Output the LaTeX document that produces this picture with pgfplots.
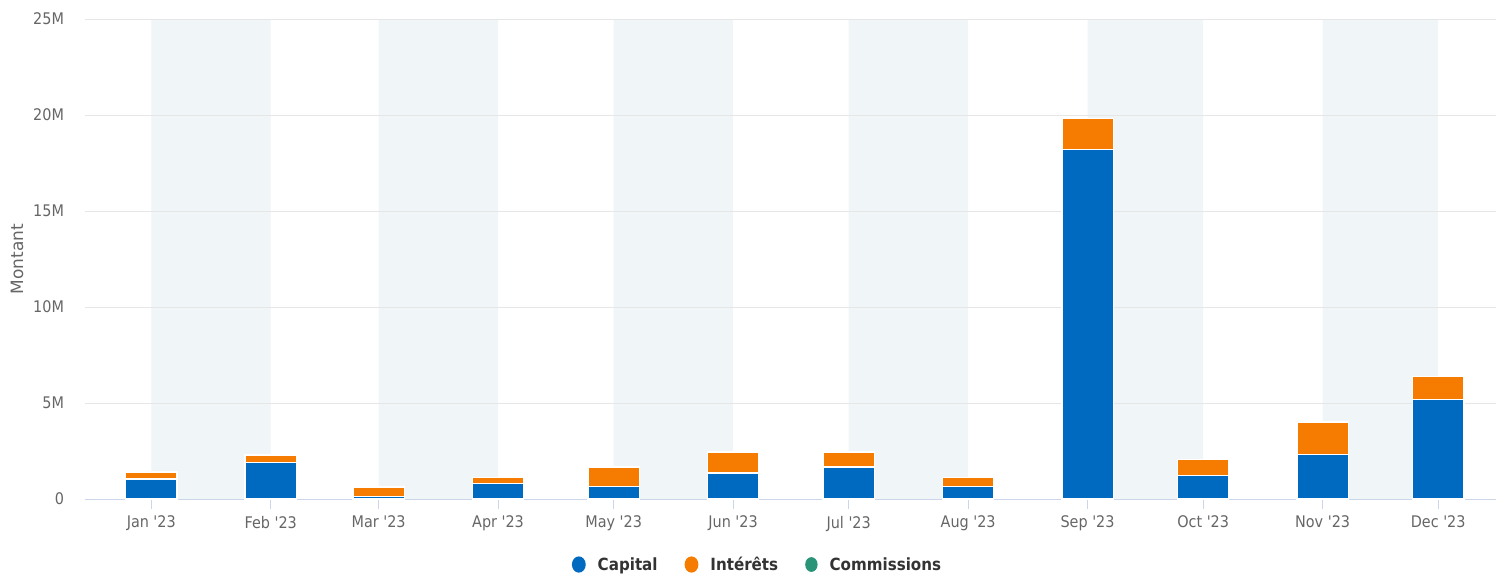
\documentclass[border=0pt]{standalone}
\usepackage{fontspec}
\setmainfont{DejaVu Sans Condensed}
\newfontfamily\regfont{DejaVu Sans}
\usepackage{pgfplots}
\pgfplotsset{compat=1.18}
\definecolor{capblue}{HTML}{0069C0}
\definecolor{intorange}{HTML}{F57C00}
\definecolor{comgreen}{HTML}{2A9478}
\definecolor{bandcol}{HTML}{F0F5F8}
\definecolor{gridcol}{HTML}{E6E6E6}
\definecolor{axiscol}{HTML}{CCD6EB}
\definecolor{labcol}{HTML}{666666}
\definecolor{legcol}{HTML}{333333}
\begin{document}
\begin{tikzpicture}
% background bands (alternating months)
\begin{axis}[
  scale only axis,
  width=705.5pt, height=240pt,
  xmin=-17.2, xmax=349,
  ymin=0, ymax=25,
  hide axis,
]
\addplot[ybar interval, fill=bandcol, draw=none]
coordinates {(0,25) (31,0) (59,25) (90,0) (120,25) (151,0) (181,25) (212,0) (243,25) (273,0) (304,25) (334,0)};
\end{axis}
\begin{axis}[
  scale only axis,
  width=705.5pt, height=240pt,
  xmin=-17.2, xmax=349,
  ymin=0, ymax=25,
  ybar stacked,
  bar width=13.3,
  axis lines*=left,
  x axis line style={draw=axiscol, line width=0.5pt},
  y axis line style={draw=none},
  xtick={0,31,59,90,120,151,181,212,243,273,304,334},
  xticklabels={Jan \textquotesingle23,Feb \textquotesingle23,Mar \textquotesingle23,Apr \textquotesingle23,May \textquotesingle23,Jun \textquotesingle23,Jul \textquotesingle23,Aug \textquotesingle23,Sep \textquotesingle23,Oct \textquotesingle23,Nov \textquotesingle23,Dec \textquotesingle23},
  xtick align=outside,
  major tick length=5pt,
  xtick style={draw=axiscol, line width=0.5pt},
  ytick={0,5,10,15,20,25},
  yticklabels={0,5M,10M,15M,20M,25M},
  ytick style={draw=none},
  ymajorgrids,
  grid style={draw=gridcol, line width=0.5pt},
  tick label style={font=\fontsize{8}{9}\selectfont, text=labcol},
  yticklabel style={anchor=east, xshift=-7pt},
  ylabel={Montant},
  every axis y label/.style={at={(axis description cs:-0.0482,0.5)}, rotate=90, anchor=center, font=\regfont\fontsize{8.5}{10}\selectfont, text=labcol},
  legend columns=-1,
  legend style={draw=none, fill=none, inner sep=0pt, outer sep=0pt,
    at={(axis description cs:0.3451,-0.1365)}, anchor=west,
    font=\bfseries\fontsize{8.4}{10}\selectfont, text=legcol,
    nodes={inner sep=0pt, text height=7.4pt, text depth=1.6pt},
    /tikz/every odd column/.style={column sep=6pt},
    /tikz/every even column/.style={column sep=13.5pt}},
  clip=false,
]
% Capital (millions)
\addplot[fill=capblue, draw=white, line width=0.7pt,
  legend image code/.code={\fill[capblue] (3.1pt,0pt) ellipse [x radius=3.1pt, y radius=3.7pt];}]
coordinates {(0,1.04) (31,1.89) (59,0.12) (90,0.80) (120,0.64) (151,1.35) (181,1.67) (212,0.64) (243,18.19) (273,1.21) (304,2.31) (334,5.19)};
\addlegendentry{Capital}
% Interets (millions)
\addplot[fill=intorange, draw=white, line width=0.7pt,
  legend image code/.code={\fill[intorange] (3.1pt,0pt) ellipse [x radius=3.1pt, y radius=3.7pt];}]
coordinates {(0,0.37) (31,0.40) (59,0.50) (90,0.31) (120,1.03) (151,1.10) (181,0.78) (212,0.47) (243,1.62) (273,0.84) (304,1.70) (334,1.18)};
\addlegendentry{Intérêts}
% Commissions (millions)
\addplot[fill=comgreen, draw=none,
  legend image code/.code={\fill[comgreen] (3.1pt,0pt) ellipse [x radius=3.1pt, y radius=3.7pt];}]
coordinates {(0,0) (31,0) (59,0) (90,0) (120,0) (151,0) (181,0) (212,0) (243,0) (273,0) (304,0) (334,0)};
\addlegendentry{Commissions}
\end{axis}
\pgfresetboundingbox
\path[use as bounding box] (-42.5pt,-38pt) rectangle (705.5pt,249.5pt);
\end{tikzpicture}
\end{document}
